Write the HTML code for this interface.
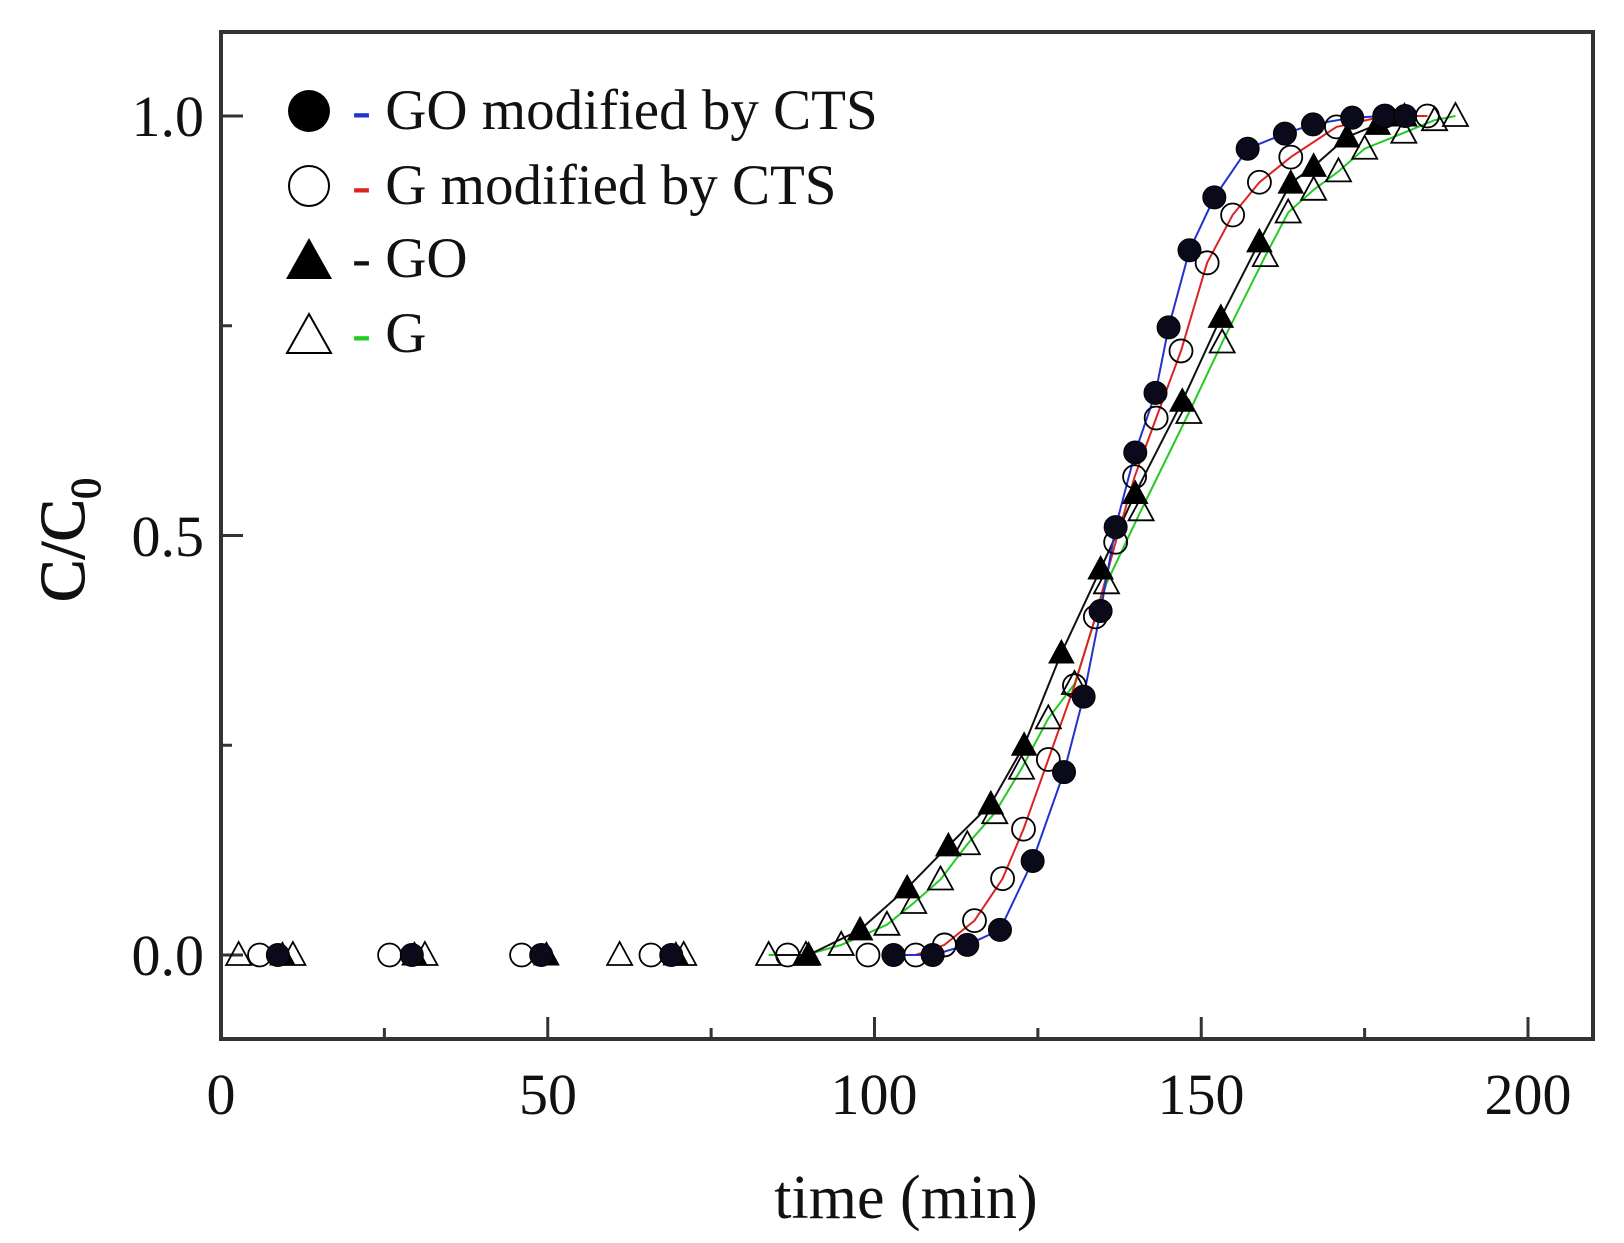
<!DOCTYPE html>
<html><head><meta charset="utf-8"><style>
html,body{margin:0;padding:0;background:#fff;}
svg{display:block;}
text{font-family:"Liberation Serif",serif;fill:#111;}
</style></head><body>
<svg id="s" width="1624" height="1243" viewBox="0 0 1624 1243" xmlns="http://www.w3.org/2000/svg">
<rect x="0" y="0" width="1624" height="1243" fill="#fff"/>
<g id="plot"></g>
<rect x="221" y="32" width="1372" height="1007" fill="none" stroke="#333" stroke-width="4"/>
<g font-size="58" text-anchor="end">
<text x="204" y="975">0.0</text>
<text x="204" y="556">0.5</text>
<text x="204" y="136">1.0</text>
</g>
<g font-size="58" text-anchor="middle">
<text x="221" y="1114">0</text>
<text x="548" y="1114">50</text>
<text x="874" y="1114">100</text>
<text x="1201" y="1114">150</text>
<text x="1528" y="1114">200</text>
<text x="906" y="1218" font-size="62">time (min)</text>
</g>
<text transform="translate(84,540) rotate(-90)" font-size="64" text-anchor="middle" stroke="#111" stroke-width="1">C/C<tspan font-size="42" dy="16">0</tspan></text>
<g font-size="57">
<circle cx="309" cy="111" r="21" fill="#000"/>
<text x="352" y="129"><tspan fill="#2233cc">-</tspan> GO modified by CTS</text>
<circle cx="309" cy="186" r="20" fill="none" stroke="#000" stroke-width="2"/>
<text x="352" y="204"><tspan fill="#dd2222">-</tspan> G modified by CTS</text>
<polygon points="286,279 332,279 309,238" fill="#000"/>
<text x="352" y="277">- GO</text>
<polygon points="287,353 331,353 309,314" fill="none" stroke="#000" stroke-width="2"/>
<text x="352" y="352"><tspan fill="#22cc22">-</tspan> G</text>
</g>
</svg>
<script>
var X=function(t){return 221+6.535*t},Y=function(c){return 955-839*c};
var g=document.getElementById('plot'),NS='http://www.w3.org/2000/svg';
function el(n,a){var e=document.createElementNS(NS,n);for(var k in a)e.setAttribute(k,a[k]);g.appendChild(e);return e;}
[0,50,100,150,200].forEach(function(t){el('line',{x1:X(t),x2:X(t),y1:1039,y2:1017,stroke:'#333','stroke-width':3});});
[25,75,125,175].forEach(function(t){el('line',{x1:X(t),x2:X(t),y1:1039,y2:1028,stroke:'#333','stroke-width':3});});
[0,0.5,1].forEach(function(c){el('line',{x1:221,x2:243,y1:Y(c),y2:Y(c),stroke:'#333','stroke-width':3});});
[0.25,0.75].forEach(function(c){el('line',{x1:221,x2:232,y1:Y(c),y2:Y(c),stroke:'#333','stroke-width':3});});
var bz=[[8.7,0],[29.2,0],[49,0],[68.9,0]];
var b=[[102.9,0],[108.9,0],[114.2,0.012],[119.2,0.03],[124.2,0.112],[129,0.218],[132,0.308],[134.6,0.41],[136.9,0.51],[139.9,0.599],[143,0.67],[145,0.748],[148.2,0.84],[152,0.903],[157.1,0.961],[162.8,0.979],[167.1,0.99],[173.1,0.998],[178,1],[181.2,1]];
var rz=[[5.9,0],[25.8,0],[46,0],[65.8,0],[86.7,0],[99,0]];
var r=[[106.3,0],[110.7,0.012],[115.3,0.041],[119.6,0.091],[122.8,0.15],[126.6,0.233],[130.6,0.321],[133.8,0.403],[136.9,0.492],[139.8,0.57],[143.1,0.64],[146.9,0.72],[150.9,0.825],[154.8,0.882],[158.9,0.921],[163.7,0.951],[170.7,0.987],[178.1,1],[184.6,1]];
var kz=[[9.4,0],[29.6,0],[49.8,0],[69.6,0]];
var k=[[89.9,0],[97.8,0.03],[105,0.08],[111.3,0.13],[117.8,0.18],[122.9,0.25],[128.6,0.36],[134.6,0.46],[139.9,0.55],[147.1,0.66],[153,0.76],[158.9,0.85],[163.7,0.92],[167.2,0.94],[172.3,0.975],[177,0.99],[181.1,1]];
var gz=[[2.7,0],[11,0],[31.2,0],[61,0],[70.8,0]];
var gr=[[83.8,0],[89.5,0],[94.9,0.012],[101.9,0.036],[106,0.062],[110.1,0.09],[114.2,0.132],[118.4,0.169],[122.5,0.222],[126.6,0.282],[130.6,0.323],[135.5,0.443],[140.8,0.53],[148.1,0.646],[153.2,0.73],[159.8,0.833],[163.3,0.885],[167.2,0.912],[171,0.934],[175,0.961],[181,0.98],[185.7,0.995],[188.9,1]];
function line(d,c,start){var p=(start?[start]:[]).concat(d).map(function(q){return X(q[0]).toFixed(1)+','+Y(q[1]).toFixed(1)}).join(' ');el('polyline',{points:p,fill:'none',stroke:c,'stroke-width':2});}
line(gr,'#22cc22');line(k,'#111',[85,0]);line(r,'#dd2222');line(b,'#2233cc');
function tri(q,fill){var x=X(q[0]),y=Y(q[1]);el('polygon',{points:(x-12.5)+','+(y+10)+' '+(x+12.5)+','+(y+10)+' '+x+','+(y-13),fill:fill?'#000':'none',stroke:'#000','stroke-width':fill?1:1.8});}
function circ(q,fill){el('circle',{cx:X(q[0]),cy:Y(q[1]),r:11.5,fill:fill?'#0a0a1a':'none',stroke:'#000','stroke-width':fill?1:1.8});}
gz.concat(gr).forEach(function(q){tri(q,false)});
rz.concat(r).forEach(function(q){circ(q,false)});
kz.concat(k).forEach(function(q){tri(q,true)});
bz.concat(b).forEach(function(q){circ(q,true)});
</script>
</body></html>
